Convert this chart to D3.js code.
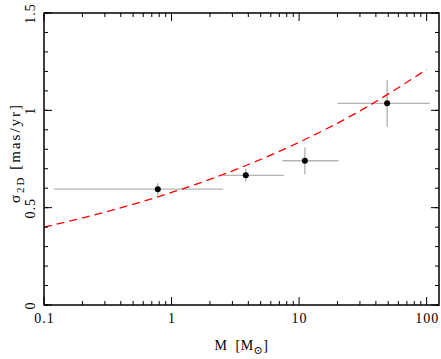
<!DOCTYPE html>
<html>
<head>
<meta charset="utf-8">
<script src="https://cdn.jsdelivr.net/npm/d3@7"></script>
<style>
  body { margin: 0; background: #fff; }
  text { font-family: "Liberation Serif", "DejaVu Serif", serif; fill: #000; }
</style>
</head>
<body>
<script>
// measured points: mass, sigma, errors
var mass = [0.78, 3.82, 11.1, 49];
var sigma = [0.595, 0.666, 0.741, 1.036];
var massLo = [0.12, 2.53, 7.4, 20.0];
var massHi = [2.54, 7.6, 20.3, 106];
var sigmaErr = [0.03, 0.033, 0.07, 0.12];
// model curve
var modelM = [0.1, 0.3, 1, 3, 10, 30, 100];
var modelS = [0.40, 0.477, 0.578, 0.689, 0.836, 0.997, 1.21];
var xTicks = [0.1, 1, 10, 100];
var xTickLabels = ['0.1', '1', '10', '100'];
var yTicks = [0, 0.5, 1, 1.5];
var yTickLabels = ['0', '0.5', '1', '1.5'];

(function() {
    var w = 441,
        h = 359;
    var left = 44, right = 439, top = 13, bottom = 305;

    var svg = d3.select('body').append('svg')
        .attr('width', w)
        .attr('height', h);

    var x = d3.scaleLog().domain([0.1, 125]).range([left, right]);
    var y = d3.scaleLinear().domain([0, 1.5]).range([bottom, top]);

    // minor ticks: 2..9 in each decade
    var xMinor = [];
    [0.1, 1, 10, 100].forEach(function(d) {
        for (var k = 2; k <= 9; k++) {
            if (d * k <= 125) xMinor.push(d * k);
        }
    });
    var yMinor = d3.range(0, 1.51, 0.1);

    // error bars
    var eb = svg.append('g')
        .attr('stroke', '#b4b4b4')
        .attr('stroke-width', 1.4);
    mass.forEach(function(m, i) {
        eb.append('line')
            .attr('x1', x(massLo[i])).attr('x2', x(massHi[i]))
            .attr('y1', y(sigma[i])).attr('y2', y(sigma[i]));
        eb.append('line')
            .attr('x1', x(m)).attr('x2', x(m))
            .attr('y1', y(sigma[i] - sigmaErr[i])).attr('y2', y(sigma[i] + sigmaErr[i]));
    });

    // model curve
    var line = d3.line()
        .x(function(d) { return x(d[0]); })
        .y(function(d) { return y(d[1]); })
        .curve(d3.curveMonotoneX);
    svg.append('path')
        .datum(d3.zip(modelM, modelS))
        .attr('d', line)
        .attr('fill', 'none')
        .attr('stroke', '#ff0000')
        .attr('stroke-width', 1.3)
        .attr('stroke-dasharray', '8,5');

    // points
    svg.append('g').selectAll('circle')
        .data(mass)
        .enter().append('circle')
        .attr('cx', function(d) { return x(d); })
        .attr('cy', function(d, i) { return y(sigma[i]); })
        .attr('r', 3)
        .attr('fill', '#000');

    // frame
    svg.append('rect')
        .attr('x', left).attr('y', top)
        .attr('width', right - left).attr('height', bottom - top)
        .attr('fill', 'none')
        .attr('stroke', '#000')
        .attr('stroke-width', 1.5);

    // ticks (inward, all four sides)
    var tk = svg.append('g').attr('stroke', '#000').attr('stroke-width', 1);
    function xt(v, len) {
        tk.append('line').attr('x1', x(v)).attr('x2', x(v)).attr('y1', bottom).attr('y2', bottom - len);
        tk.append('line').attr('x1', x(v)).attr('x2', x(v)).attr('y1', top).attr('y2', top + len);
    }
    function yt(v, len) {
        tk.append('line').attr('y1', y(v)).attr('y2', y(v)).attr('x1', left).attr('x2', left + len);
        tk.append('line').attr('y1', y(v)).attr('y2', y(v)).attr('x1', right).attr('x2', right - len);
    }
    xMinor.forEach(function(v) { xt(v, 4); });
    xTicks.forEach(function(v) { xt(v, 8); });
    yMinor.forEach(function(v) { yt(v, 4); });
    yTicks.forEach(function(v) { yt(v, 8); });

    // tick labels
    svg.append('g').selectAll('text')
        .data(xTicks)
        .enter().append('text')
        .attr('x', function(d) { return x(d) + 0.5; })
        .attr('y', 323)
        .attr('text-anchor', 'middle')
        .style('font-size', '14px')
        .style('letter-spacing', '1px')
        .text(function(d, i) { return xTickLabels[i]; });

    svg.append('g').selectAll('text')
        .data(yTicks)
        .enter().append('text')
        .attr('transform', function(d) { return 'translate(35,' + (y(d) + 0.5) + ') rotate(-90)'; })
        .attr('text-anchor', 'middle')
        .style('font-size', '14px')
        .style('letter-spacing', '1px')
        .text(function(d, i) { return yTickLabels[i]; });

    // axis titles
    var xl = svg.append('text')
        .attr('x', (left + right) / 2)
        .attr('y', 350)
        .attr('text-anchor', 'middle')
        .style('font-size', '14px')
        .style('letter-spacing', '0.5px');
    xl.append('tspan').text('M \u00a0[M');
    xl.append('tspan').attr('dy', 4).style('font-size', '11px').text('\u2299');
    xl.append('tspan').attr('dy', -4).text(']');

    var yl = svg.append('text')
        .attr('transform', 'translate(20,153) rotate(-90)')
        .attr('text-anchor', 'middle')
        .style('font-size', '15px')
        .style('letter-spacing', '2px');
    yl.append('tspan').text('\u03c3');
    yl.append('tspan').attr('dy', 4).style('font-size', '11px').text('2D');
    yl.append('tspan').attr('dy', -4).text('\u00a0[mas/yr]');
})();
</script>
</body>
</html>
